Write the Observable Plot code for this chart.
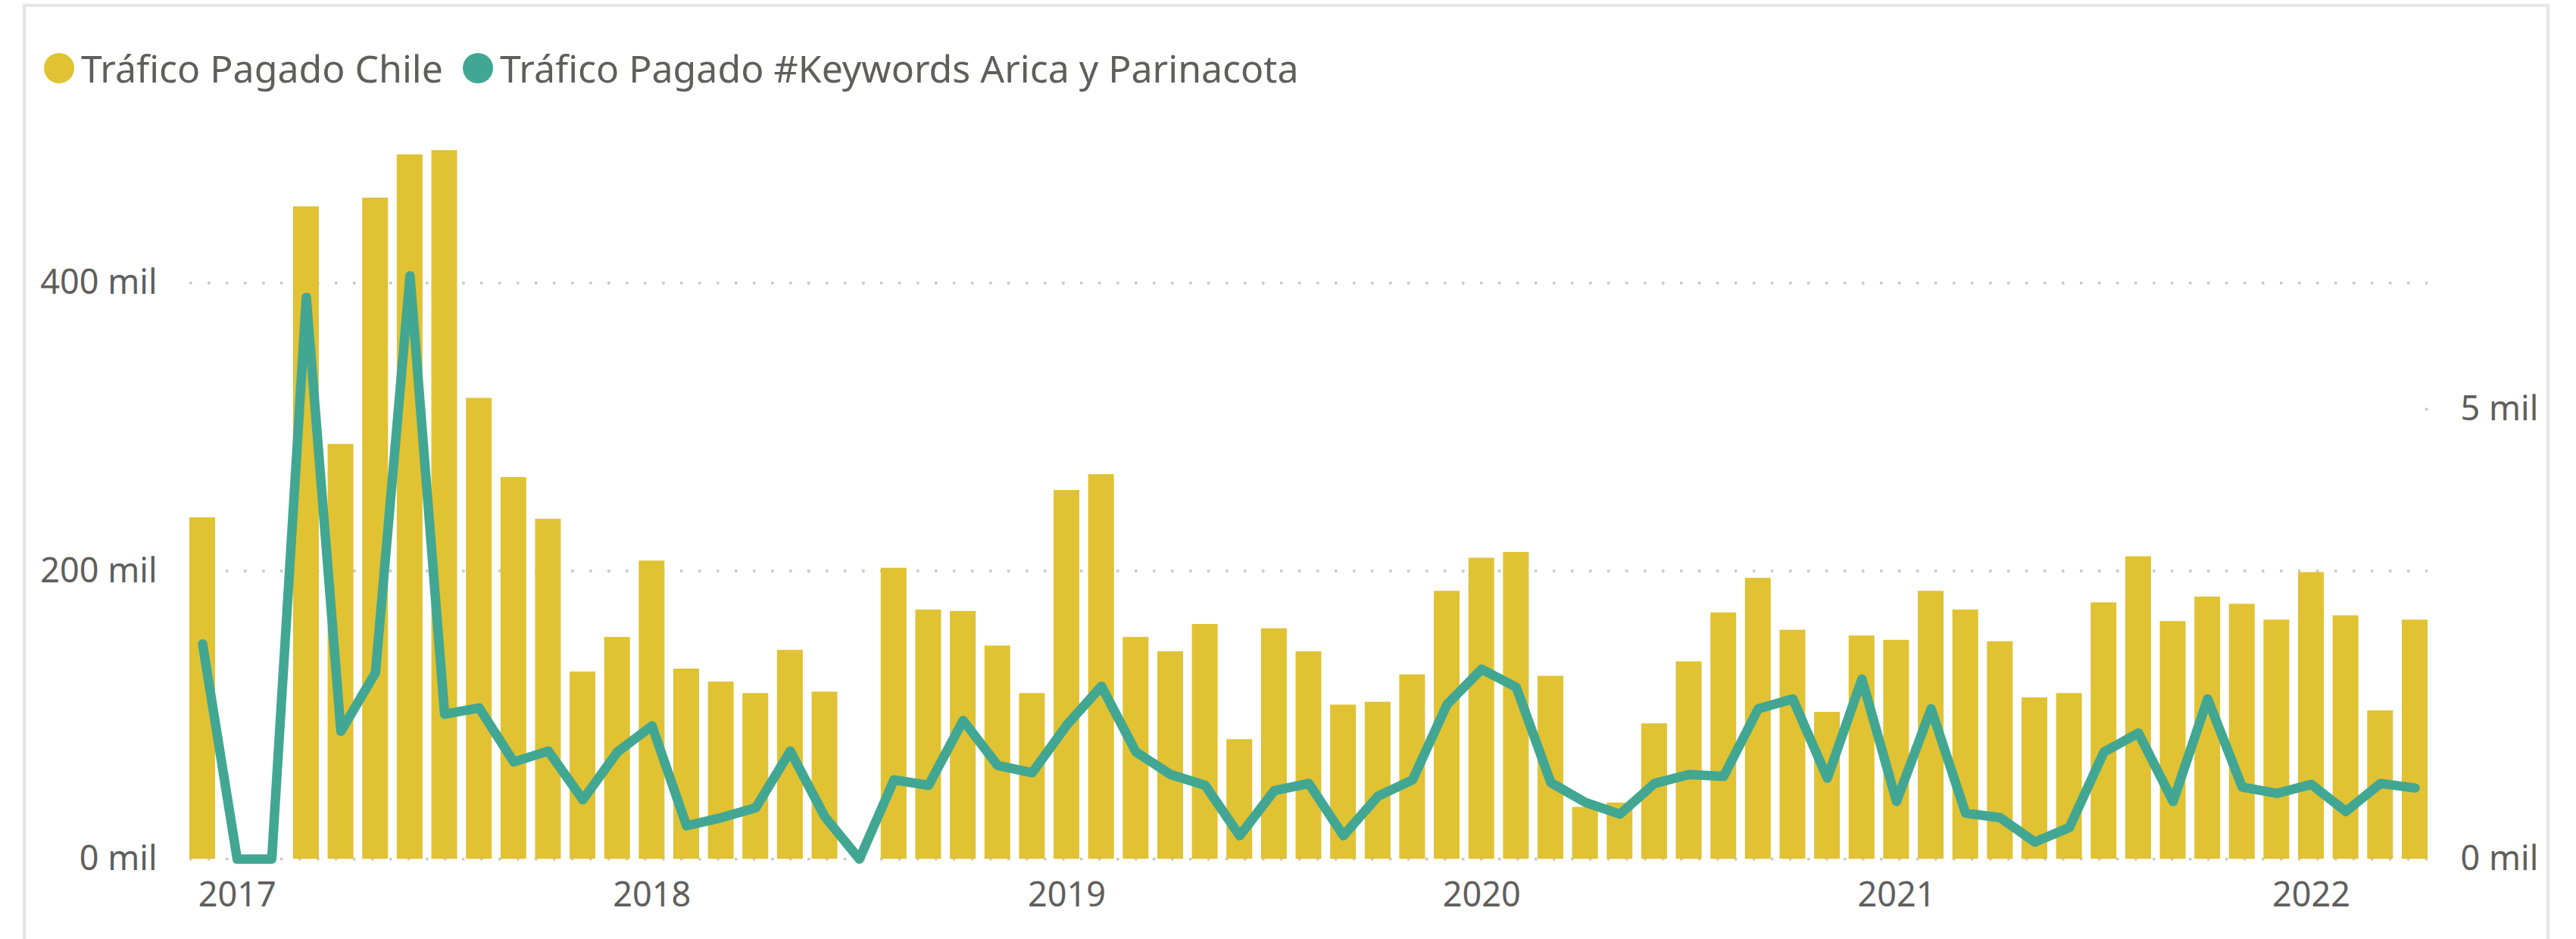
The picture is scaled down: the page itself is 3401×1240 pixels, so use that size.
<!DOCTYPE html>
<html>
<head>
<meta charset="utf-8">
<script src="https://cdn.jsdelivr.net/npm/d3@7"></script>
<script src="https://cdn.jsdelivr.net/npm/@observablehq/plot@0.6"></script>
<style>
  html, body { margin: 0; padding: 0; background: #ffffff; }
  body { width: 3401px; height: 1240px; position: relative; overflow: hidden; font-family: "Noto Sans", "Open Sans", sans-serif; }
  #legend { position: absolute; left: 58px; top: 65px; display: flex; align-items: center; font-size: 50px; line-height: 50px; color: #605E5C; white-space: nowrap; }
  #legend .sw { width: 40px; height: 40px; border-radius: 50%; display: inline-block; margin-right: 9px; }
  #legend .lab { margin-right: 26px; }
  #chart { position: absolute; left: 0; top: 140px; }
  #frame { position: absolute; left: 30px; top: 5px; width: 3336px; height: 1300px; box-sizing: border-box; border: 4px solid #E6E6E6; border-bottom: none; pointer-events: none; }
</style>
</head>
<body>
<div id="legend"></div>
<div id="chart"></div>
<div id="frame"></div>
<script>
// Months (categories)
const months = [
  "2016-12",
  "2017-01","2017-02","2017-03","2017-04","2017-05","2017-06","2017-07","2017-08","2017-09","2017-10","2017-11","2017-12",
  "2018-01","2018-02","2018-03","2018-04","2018-05","2018-06","2018-07","2018-08","2018-09","2018-10","2018-11","2018-12",
  "2019-01","2019-02","2019-03","2019-04","2019-05","2019-06","2019-07","2019-08","2019-09","2019-10","2019-11","2019-12",
  "2020-01","2020-02","2020-03","2020-04","2020-05","2020-06","2020-07","2020-08","2020-09","2020-10","2020-11","2020-12",
  "2021-01","2021-02","2021-03","2021-04","2021-05","2021-06","2021-07","2021-08","2021-09","2021-10","2021-11","2021-12",
  "2022-01","2022-02","2022-03","2022-04"
];

// Tráfico Pagado Chile (thousands, left axis)
const traficoChile = [
  237,
  0, 0, 453, 288, 459, 489, 492, 320, 265, 236, 130, 154,
  207, 132, 123, 115, 145, 116, 0, 202, 173, 172, 148, 115,
  256, 267, 154, 144, 163, 83, 160, 144, 107, 109, 128, 186,
  209, 213, 127, 36, 39, 94, 137, 171, 195, 159, 102, 155,
  152, 186, 173, 151, 112, 115, 178, 210, 165, 182, 177, 166,
  199, 169, 103, 166
];

// Tráfico Pagado #Keywords Arica y Parinacota (thousands, right axis)
const traficoArica = [
  2.39,
  0, 0, 6.24, 1.42, 2.07, 6.48, 1.61, 1.68, 1.08, 1.20, 0.66, 1.19,
  1.48, 0.37, 0.46, 0.57, 1.20, 0.47, 0, 0.88, 0.82, 1.54, 1.04, 0.96,
  1.49, 1.92, 1.19, 0.94, 0.82, 0.26, 0.76, 0.84, 0.26, 0.70, 0.88, 1.72,
  2.11, 1.91, 0.85, 0.63, 0.50, 0.84, 0.94, 0.92, 1.67, 1.78, 0.90, 2.00,
  0.64, 1.67, 0.51, 0.46, 0.19, 0.35, 1.19, 1.40, 0.64, 1.78, 0.80, 0.73,
  0.83, 0.53, 0.84, 0.79
];

// Axis ticks and labels
const xTickMonths = ["2017-01","2018-01","2019-01","2020-01","2021-01","2022-01"];
const xTickLabels = ["2017","2018","2019","2020","2021","2022"];
const leftTicks = [0, 200, 400];
const rightTicks = [0, 5];
const leftMax = 500;
const rightMax = 8;

const seriesNames = ["Tráfico Pagado Chile", "Tráfico Pagado #Keywords Arica y Parinacota"];
const seriesColors = ["#E0C233", "#41A792"];

const K = leftMax / rightMax; // right-axis units -> left-axis units
const data = months.map((m, i) => ({month: m, chile: traficoChile[i], arica: traficoArica[i]}));

// Legend
const legend = document.getElementById("legend");
seriesNames.forEach((name, i) => {
  const sw = document.createElement("span");
  sw.className = "sw";
  sw.style.background = seriesColors[i];
  const lab = document.createElement("span");
  lab.className = "lab";
  lab.textContent = name;
  legend.appendChild(sw);
  legend.appendChild(lab);
});

const gridStyle = {stroke: "#C8C8C8", strokeWidth: 3.5, strokeDasharray: "3.5 20.5"};

const chart = Plot.plot({
  width: 3401,
  height: 1100,
  marginTop: 43,
  marginBottom: 106,
  marginLeft: 250,
  marginRight: 196,
  style: {fontFamily: "'Noto Sans', 'Open Sans', sans-serif", fontSize: "45px", color: "#605E5C", background: "transparent"},
  x: {type: "band", domain: months, paddingInner: 0.255, paddingOuter: 0, align: 0.5},
  y: {domain: [0, leftMax]},
  marks: [
    Plot.ruleY(leftTicks, gridStyle),
    Plot.dot([rightTicks[1] * K], {y: d => d, frameAnchor: "right", dx: -2, r: 2, fill: "#C8C8C8", stroke: null}),
    Plot.barY(data, {x: "month", y: "chile", fill: seriesColors[0]}),
    Plot.line(data, {x: "month", y: d => d.arica * K, stroke: seriesColors[1], strokeWidth: 12.5, strokeLinejoin: "round", strokeLinecap: "round"}),
    Plot.axisY({anchor: "left", ticks: leftTicks, tickFormat: d => `${d} mil`, tickSize: 0, tickPadding: 43, label: null}),
    Plot.axisY({anchor: "right", ticks: rightTicks.map(d => d * K), tickFormat: d => `${Math.round(d / K)} mil`, tickSize: 0, tickPadding: 43, label: null}),
    Plot.axisX({ticks: xTickMonths, tickFormat: d => xTickLabels[xTickMonths.indexOf(d)], tickSize: 0, tickPadding: 31, label: null})
  ]
});
document.getElementById("chart").appendChild(chart);
</script>
</body>
</html>
